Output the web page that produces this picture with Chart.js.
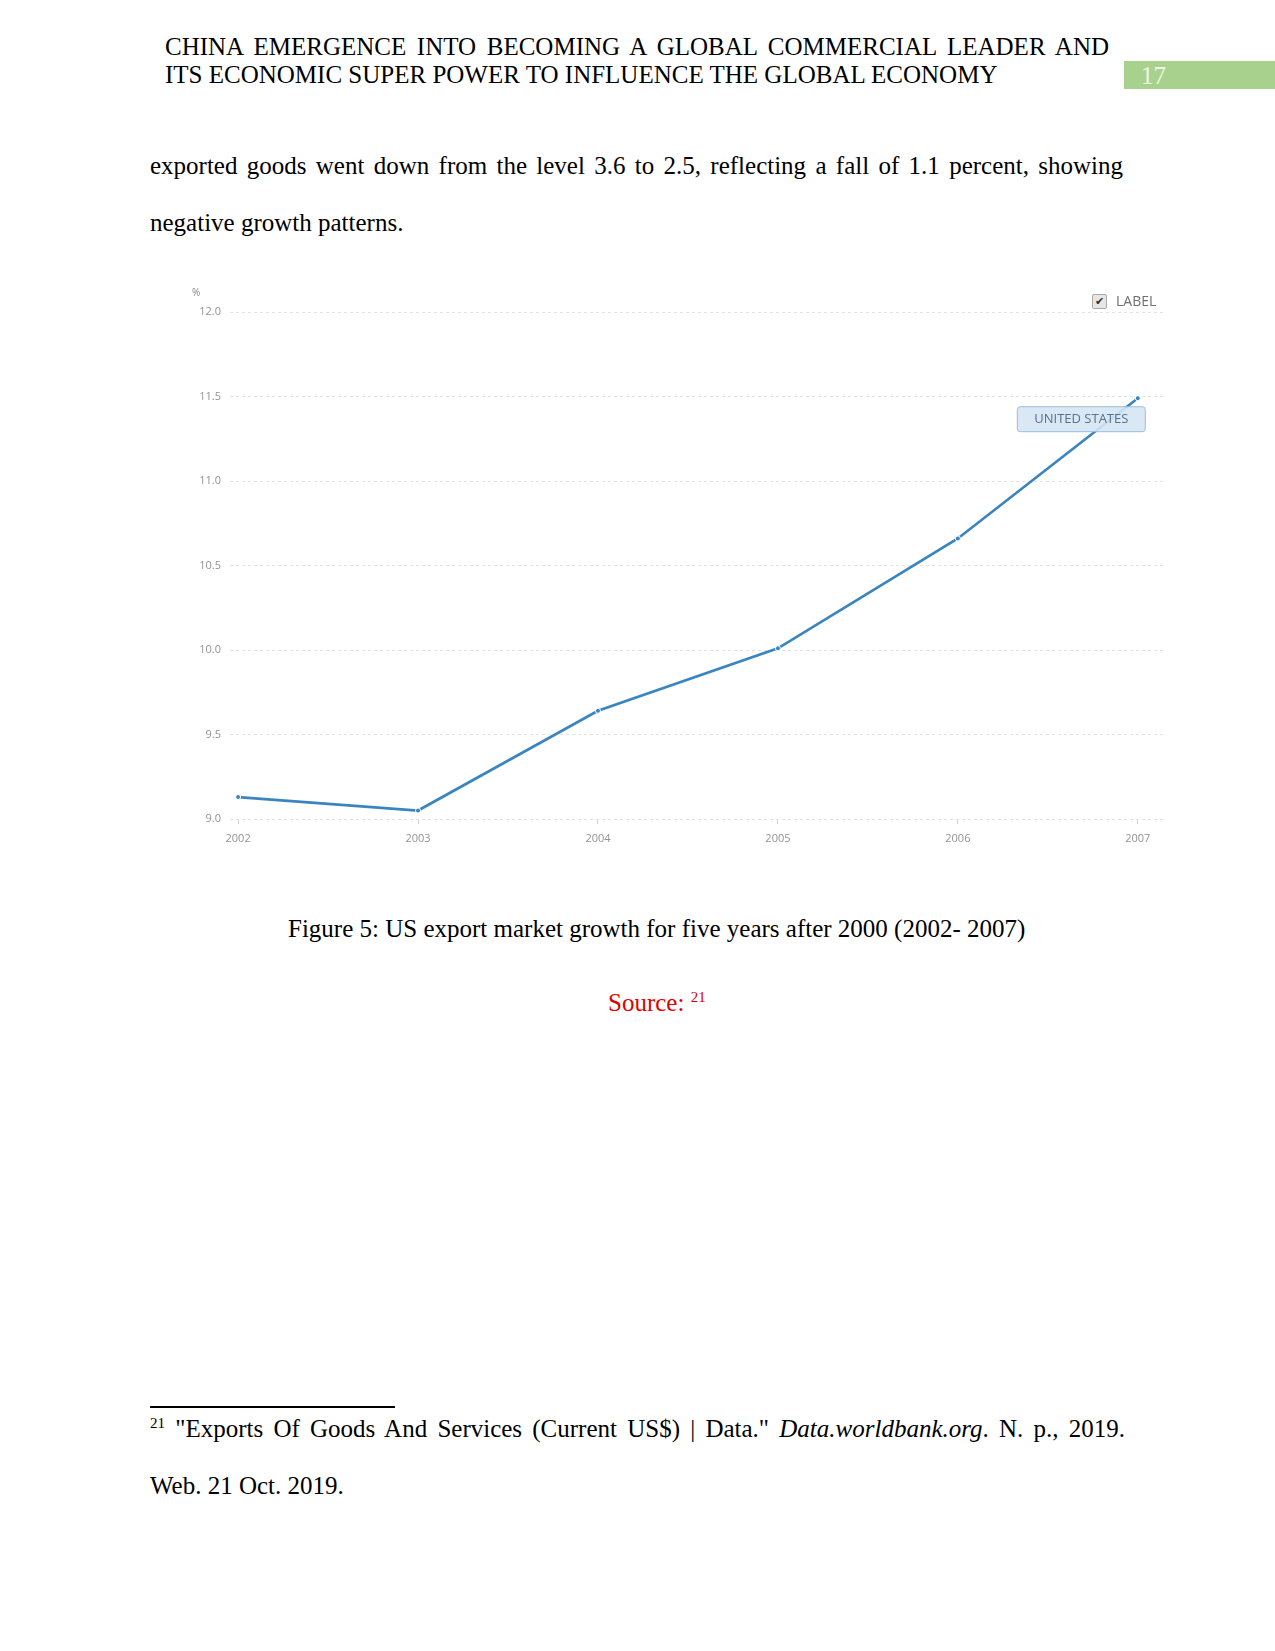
<!DOCTYPE html>
<html>
<head>
<meta charset="utf-8">
<script src="https://cdn.jsdelivr.net/npm/chart.js@4"></script>
<style>
  html, body { margin: 0; padding: 0; background: #fff; }
  #page { position: relative; width: 1275px; height: 1651px; background: #fff; font-family: "Liberation Serif", "Times New Roman", serif; color: #000; }
  .t { position: absolute; font-size: 25px; line-height: 25px; white-space: nowrap; }
  .j { white-space: normal; text-align: justify; text-align-last: justify; }
  #pagenum { position: absolute; left: 1124px; top: 61px; width: 151px; height: 28px; background: #a9d18e; color: #eef6e8; font-size: 25px; line-height: 28px; }
  #pagenum span { position: absolute; left: 17px; top: 1px; }
  #chart { position: absolute; left: 170px; top: 270px; }
  .small { position: absolute; font-family: "Open Sans", sans-serif; color: #888; }
  #cb { position: absolute; left: 1092px; top: 294px; width: 13px; height: 13px; border: 1px solid #aaa; border-radius: 2px; background: #e6e6e6; font-size: 11px; line-height: 13px; text-align: center; color: #333; }
  sup { font-size: 15px; line-height: 0; vertical-align: 9px; }
</style>
</head>
<body>
<div id="page">
  <div class="t j" style="left:165px; top:34px; width:944px;">CHINA EMERGENCE INTO BECOMING A GLOBAL COMMERCIAL LEADER AND</div>
  <div class="t" style="left:165px; top:62px;">ITS ECONOMIC SUPER POWER TO INFLUENCE THE GLOBAL ECONOMY</div>
  <div id="pagenum"><span>17</span></div>

  <div class="t j" style="left:150px; top:153px; width:973px;">exported goods went down from the level 3.6 to 2.5, reflecting a fall of 1.1 percent, showing</div>
  <div class="t" style="left:150px; top:210px;">negative growth patterns.</div>

  <canvas id="chart" width="1010" height="590"></canvas>
  <div class="small" style="left:192px; top:285px; font-size:10px;">%</div>
  <div id="cb">&#10004;</div>
  <div class="small" style="left:1116px; top:291px; font-size:14px; color:#6f6f6f;">LABEL</div>

  <div class="t" style="left:288px; top:916px;">Figure 5: US export market growth for five years after 2000 (2002- 2007)</div>
  <div class="t" style="left:608px; top:990px; color:#e00000;">Source: <sup>21</sup></div>

  <div style="position:absolute; left:150px; top:1406px; width:245px; height:2px; background:#000;"></div>
  <div class="t j" style="left:150px; top:1416px; width:975px;"><sup>21</sup> "Exports Of Goods And Services (Current US$) | Data." <i>Data.worldbank.org</i>. N. p., 2019.</div>
  <div class="t" style="left:150px; top:1473px;">Web. 21 Oct. 2019.</div>
</div>

<script>
// значения (%)
const years = [2002, 2003, 2004, 2005, 2006, 2007];
const exportShare = [9.13, 9.05, 9.64, 10.01, 10.66, 11.49];
const seriesName = 'UNITED STATES';

const lineColor = '#3a85c0';

// подпись серии у последней точки
const seriesLabel = {
  id: 'seriesLabel',
  afterDatasetsDraw(chart) {
    const meta = chart.getDatasetMeta(0);
    const pt = meta.data[meta.data.length - 1];
    const ctx = chart.ctx;
    const w = 128, h = 25;
    const x = pt.x + 7 - w, y = pt.y + 8;
    ctx.save();
    ctx.globalAlpha = 0.9;
    ctx.fillStyle = '#d5e5f3';
    ctx.strokeStyle = '#94b8d8';
    ctx.lineWidth = 1;
    ctx.beginPath();
    ctx.roundRect(x + 0.5, y + 0.5, w, h, 3);
    ctx.fill();
    ctx.stroke();
    ctx.globalAlpha = 1;
    ctx.fillStyle = '#56718f';
    ctx.font = '13px "Open Sans", sans-serif';
    ctx.textAlign = 'center';
    ctx.textBaseline = 'middle';
    ctx.fillText(seriesName, x + w / 2 + 0.5, y + h / 2 + 1);
    ctx.restore();
  }
};

const ctx = document.getElementById('chart').getContext('2d');

new Chart(ctx, {
  type: 'line',
  data: {
    datasets: [{
      label: seriesName,
      data: years.map((yr, i) => ({ x: yr, y: exportShare[i] })),
      borderColor: lineColor,
      borderWidth: 2.7,
      tension: 0,
      fill: false,
      pointRadius: 2.5,
      pointBackgroundColor: lineColor,
      pointBorderColor: '#ffffff',
      pointBorderWidth: 1
    }]
  },
  options: {
    responsive: false,
    animation: false,
    devicePixelRatio: 1,
    layout: { padding: { left: 0, top: 42, right: 17, bottom: 0 } },
    plugins: {
      legend: { display: false },
      tooltip: { enabled: false }
    },
    scales: {
      x: {
        type: 'linear',
        min: 2001.955,
        max: 2007.14,
        afterBuildTicks: function(axis) {
          axis.ticks = years.map(v => ({ value: v }));
        },
        afterFit: function(axis) { axis.height = 41; },
        grid: { drawOnChartArea: false, drawTicks: true, tickLength: 5, color: '#cfcfcf' },
        border: { display: false },
        ticks: {
          padding: 8,
          color: '#939393',
          font: { family: 'Open Sans', size: 11 },
          maxRotation: 0,
          callback: function(v) { return String(v); }
        }
      },
      y: {
        min: 9,
        max: 12,
        afterFit: function(axis) { axis.width = 60; },
        grid: { drawTicks: false, color: '#e2e2e2', lineWidth: 1 },
        border: { display: false, dash: [3, 3] },
        ticks: {
          stepSize: 0.5,
          padding: 9,
          color: '#939393',
          font: { family: 'Open Sans', size: 11 },
          callback: function(v) { return v.toFixed(1); }
        }
      }
    }
  },
  plugins: [seriesLabel]
});
</script>
</body>
</html>
